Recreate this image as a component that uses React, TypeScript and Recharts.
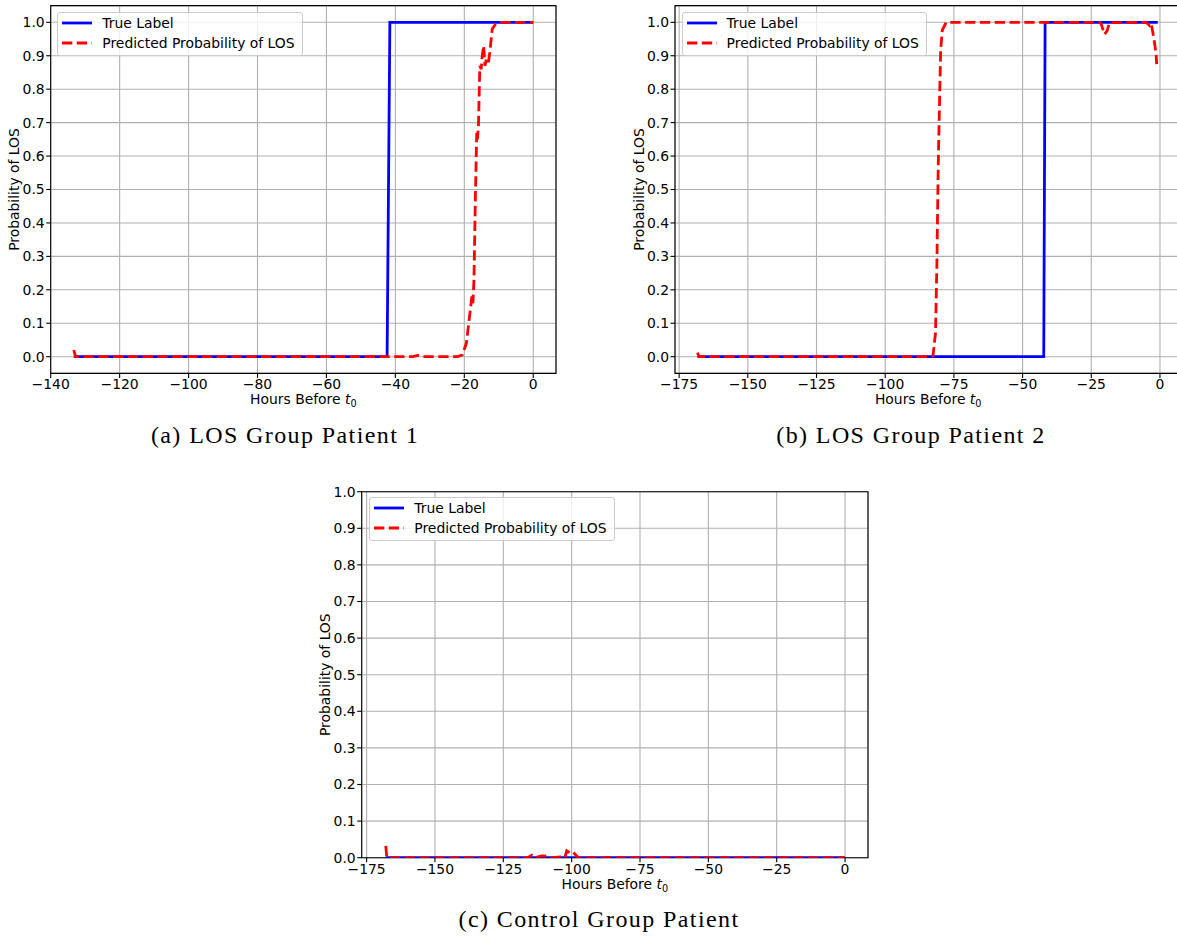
import React from 'react'
import { LineChart, Line, XAxis, YAxis, CartesianGrid, ReferenceArea, Legend } from 'recharts'

const SANS = '"DejaVu Sans", sans-serif'
const SERIF = '"Liberation Serif", serif'
const DASH = '10.3 4.5'

const SERIES = [
  { name: 'True Label', color: '#0000ff', dash: undefined as string | undefined },
  { name: 'Predicted Probability of LOS', color: '#ff0000', dash: DASH },
]

// (a) LOS group patient 1
const p1TrueHours = [-133.3, -42.4, -41.6, 0]
const p1TrueValues = [0, 0, 1, 1]
const p1PredHours = [
  -133.3, -132.8, -35, -33.5, -32, -22, -20.6, -19.4, -18.6, -17.8, -17.5, -17.2, -16.8, -16.4,
  -16.2, -15.9, -15.5, -15.1, -14.8, -14.4, -14.0, -13.6, -13.0, -12.6, -11.9, -10.9, -9.4, 0,
]
const p1PredValues = [
  0.02, 0, 0, 0.004, 0, 0, 0.005, 0.04, 0.11, 0.18, 0.16, 0.23, 0.47, 0.67,
  0.65, 0.69, 0.87, 0.86, 0.9, 0.93, 0.87, 0.89, 0.88, 0.91, 0.98, 0.995, 1, 1,
]

// (b) LOS group patient 2
const p2TrueHours = [-168.3, -42.3, -41.8, -0.8]
const p2TrueValues = [0, 0, 1, 1]
const p2PredHours = [
  -168.3, -167.8, -83.5, -82.6, -81.7, -81.2, -80.7, -80.2, -79.8, -79.2, -77.8, -22, -21.4, -20.2,
  -19.2, -18.4, -5.0, -3.8, -3.2, -2.6, -2.0, -1.4, -1.2,
]
const p2PredValues = [
  0.012, 0, 0, 0.003, 0.07, 0.27, 0.57, 0.77, 0.92, 0.977, 1, 1, 0.995, 0.964,
  0.975, 0.999, 1, 0.99, 0.997, 0.97, 0.94, 0.905, 0.875,
]

// (c) control group patient
const p3TrueHours = [-168, 0]
const p3TrueValues = [0, 0]
const p3PredHours = [
  -168, -167.6, -116, -114.6, -113.5, -111, -109, -107.5, -104, -103, -102.5, -101.8, -100.5,
  -99.4, -97.6, 0,
]
const p3PredValues = [
  0.032, 0, 0, 0.007, 0, 0.005, 0.004, 0, 0.002, 0, 0, 0.019, 0.012, 0.015, 0, 0,
]

const hourTicks140 = [-140, -120, -100, -80, -60, -40, -20, 0]
const hourTicks175 = [-175, -150, -125, -100, -75, -50, -25, 0]
const probTicks = [0, 0.1, 0.2, 0.3, 0.4, 0.5, 0.6, 0.7, 0.8, 0.9, 1.0]

const zip = (hours: number[], values: number[]) => hours.map((h, i) => ({ h, p: values[i] }))

const fmtHour = (v: number) => (v < 0 ? '\u2212' + Math.abs(v) : String(v))
const fmtProb = (v: number) => v.toFixed(1)

// "Hours Before t0" under the x axis
function XTitle(props: any) {
  const vb = props.viewBox ?? props
  return (
    <text x={vb.x + vb.width / 2} y={vb.y + 31} textAnchor="middle" fontFamily={SANS} fontSize={13.9} fill="#000">
      Hours Before{' '}
      <tspan fontStyle="italic">t</tspan>
      <tspan fontSize={9.7} dy={3}>0</tspan>
    </text>
  )
}

function YTitle(props: any) {
  const vb = props.viewBox ?? props
  const x = vb.x + vb.width - 36.3
  const y = vb.y + vb.height / 2
  return (
    <text
      x={x}
      y={y}
      transform={`rotate(-90 ${x} ${y})`}
      textAnchor="middle"
      dominantBaseline="central"
      fontFamily={SANS}
      fontSize={13.9}
      fill="#000"
    >
      Probability of LOS
    </text>
  )
}

function LegendBox() {
  return (
    <div
      style={{
        border: '1px solid #cccccc',
        borderRadius: 3,
        background: 'rgba(255,255,255,0.8)',
        padding: '0 7px 2px 4px',
        fontFamily: SANS,
        fontSize: 13.9,
        color: '#000',
        whiteSpace: 'nowrap',
      }}
    >
      {SERIES.map((s) => (
        <div key={s.name} style={{ display: 'flex', alignItems: 'center', height: 20 }}>
          <svg width={30} height={10} style={{ marginRight: 10 }}>
            <line x1={0} y1={5} x2={30} y2={5} stroke={s.color} strokeWidth={2.8} strokeDasharray={s.dash} />
          </svg>
          <span>{s.name}</span>
        </div>
      ))}
    </div>
  )
}

interface PanelProps {
  width: number
  height: number
  margin: { top: number; right: number; left: number; bottom: number }
  yAxisWidth: number
  xDomain: [number, number]
  yDomain: [number, number]
  xTicks: number[]
  truth: { h: number; p: number }[]
  pred: { h: number; p: number }[]
  legendAt: { left: number; top: number }
}

function Panel({ width, height, margin, yAxisWidth, xDomain, yDomain, xTicks, truth, pred, legendAt }: PanelProps) {
  const tick = { fontFamily: SANS, fontSize: 13.9, fill: '#000' }
  return (
    <LineChart width={width} height={height} margin={margin} style={{ fontFamily: SANS }}>
      <CartesianGrid stroke="#b0b0b0" strokeWidth={1.1} />
      <XAxis
        dataKey="h"
        type="number"
        domain={xDomain}
        ticks={xTicks}
        interval={0}
        allowDataOverflow
        tickFormatter={fmtHour}
        tick={tick}
        tickLine={{ stroke: '#000', strokeWidth: 1.1 }}
        tickSize={4.5}
        tickMargin={1.5}
        axisLine={false}
        height={40}
        label={<XTitle />}
      />
      <YAxis
        type="number"
        domain={yDomain}
        ticks={probTicks}
        interval={0}
        allowDataOverflow
        tickFormatter={fmtProb}
        tick={tick}
        tickLine={{ stroke: '#000', strokeWidth: 1.1 }}
        tickSize={4.5}
        tickMargin={1.5}
        axisLine={false}
        width={yAxisWidth}
        label={<YTitle />}
      />
      <Line
        data={truth}
        dataKey="p"
        name={SERIES[0].name}
        type="linear"
        stroke={SERIES[0].color}
        strokeWidth={2.8}
        dot={false}
        activeDot={false}
        isAnimationActive={false}
      />
      <Line
        data={pred}
        dataKey="p"
        name={SERIES[1].name}
        type="linear"
        stroke={SERIES[1].color}
        strokeWidth={2.8}
        strokeDasharray={DASH}
        dot={false}
        activeDot={false}
        isAnimationActive={false}
      />
      <ReferenceArea
        x1={xDomain[0]}
        x2={xDomain[1]}
        y1={yDomain[0]}
        y2={yDomain[1]}
        fill="none"
        stroke="#000"
        strokeWidth={1.1}
        ifOverflow="visible"
      />
      <Legend
        layout="vertical"
        align="center"
        verticalAlign="middle"
        content={<LegendBox />}
        wrapperStyle={{ left: legendAt.left, top: legendAt.top, width: 'auto', height: 'auto' }}
      />
    </LineChart>
  )
}

function Caption({ text, cx, cy }: { text: string; cx: number; cy: number }) {
  return (
    <div
      style={{
        position: 'absolute',
        left: cx - 200,
        top: cy - 16,
        width: 400,
        lineHeight: '30px',
        textAlign: 'center',
        fontFamily: SERIF,
        fontSize: 24,
        letterSpacing: 1.4,
        color: '#000',
      }}
    >
      {text}
    </div>
  )
}

export default function App() {
  return (
    <div
      style={{
        position: 'fixed',
        left: 0,
        top: 0,
        width: 1177,
        height: 938,
        overflow: 'hidden',
        background: '#fff',
      }}
    >
      <div style={{ position: 'absolute', left: 0, top: 0 }}>
        <Panel
          width={570}
          height={420}
          margin={{ top: 5.6, right: 14, left: 0, bottom: 6.6 }}
          yAxisWidth={50.7}
          xDomain={[-140, 6.6]}
          yDomain={[-0.05, 1.05]}
          xTicks={hourTicks140}
          truth={zip(p1TrueHours, p1TrueValues)}
          pred={zip(p1PredHours, p1PredValues)}
          legendAt={{ left: 57.3, top: 12.3 }}
        />
      </div>
      <div style={{ position: 'absolute', left: 620, top: 0 }}>
        <Panel
          width={575}
          height={420}
          margin={{ top: 5.6, right: 13.6, left: 0, bottom: 6.6 }}
          yAxisWidth={55}
          xDomain={[-176.5, 7.8]}
          yDomain={[-0.05, 1.05]}
          xTicks={hourTicks175}
          truth={zip(p2TrueHours, p2TrueValues)}
          pred={zip(p2PredHours, p2PredValues)}
          legendAt={{ left: 61.6, top: 12.3 }}
        />
      </div>
      <div style={{ position: 'absolute', left: 300, top: 470 }}>
        <Panel
          width={580}
          height={430}
          margin={{ top: 21.7, right: 12, left: 0, bottom: 2.3 }}
          yAxisWidth={61.7}
          xDomain={[-176.8, 8.4]}
          yDomain={[0, 1]}
          xTicks={hourTicks175}
          truth={zip(p3TrueHours, p3TrueValues)}
          pred={zip(p3PredHours, p3PredValues)}
          legendAt={{ left: 69.3, top: 27.3 }}
        />
      </div>
      <Caption text="(a) LOS Group Patient 1" cx={285} cy={436} />
      <Caption text="(b) LOS Group Patient 2" cx={911} cy={436} />
      <Caption text="(c) Control Group Patient" cx={599} cy={920} />
    </div>
  )
}
